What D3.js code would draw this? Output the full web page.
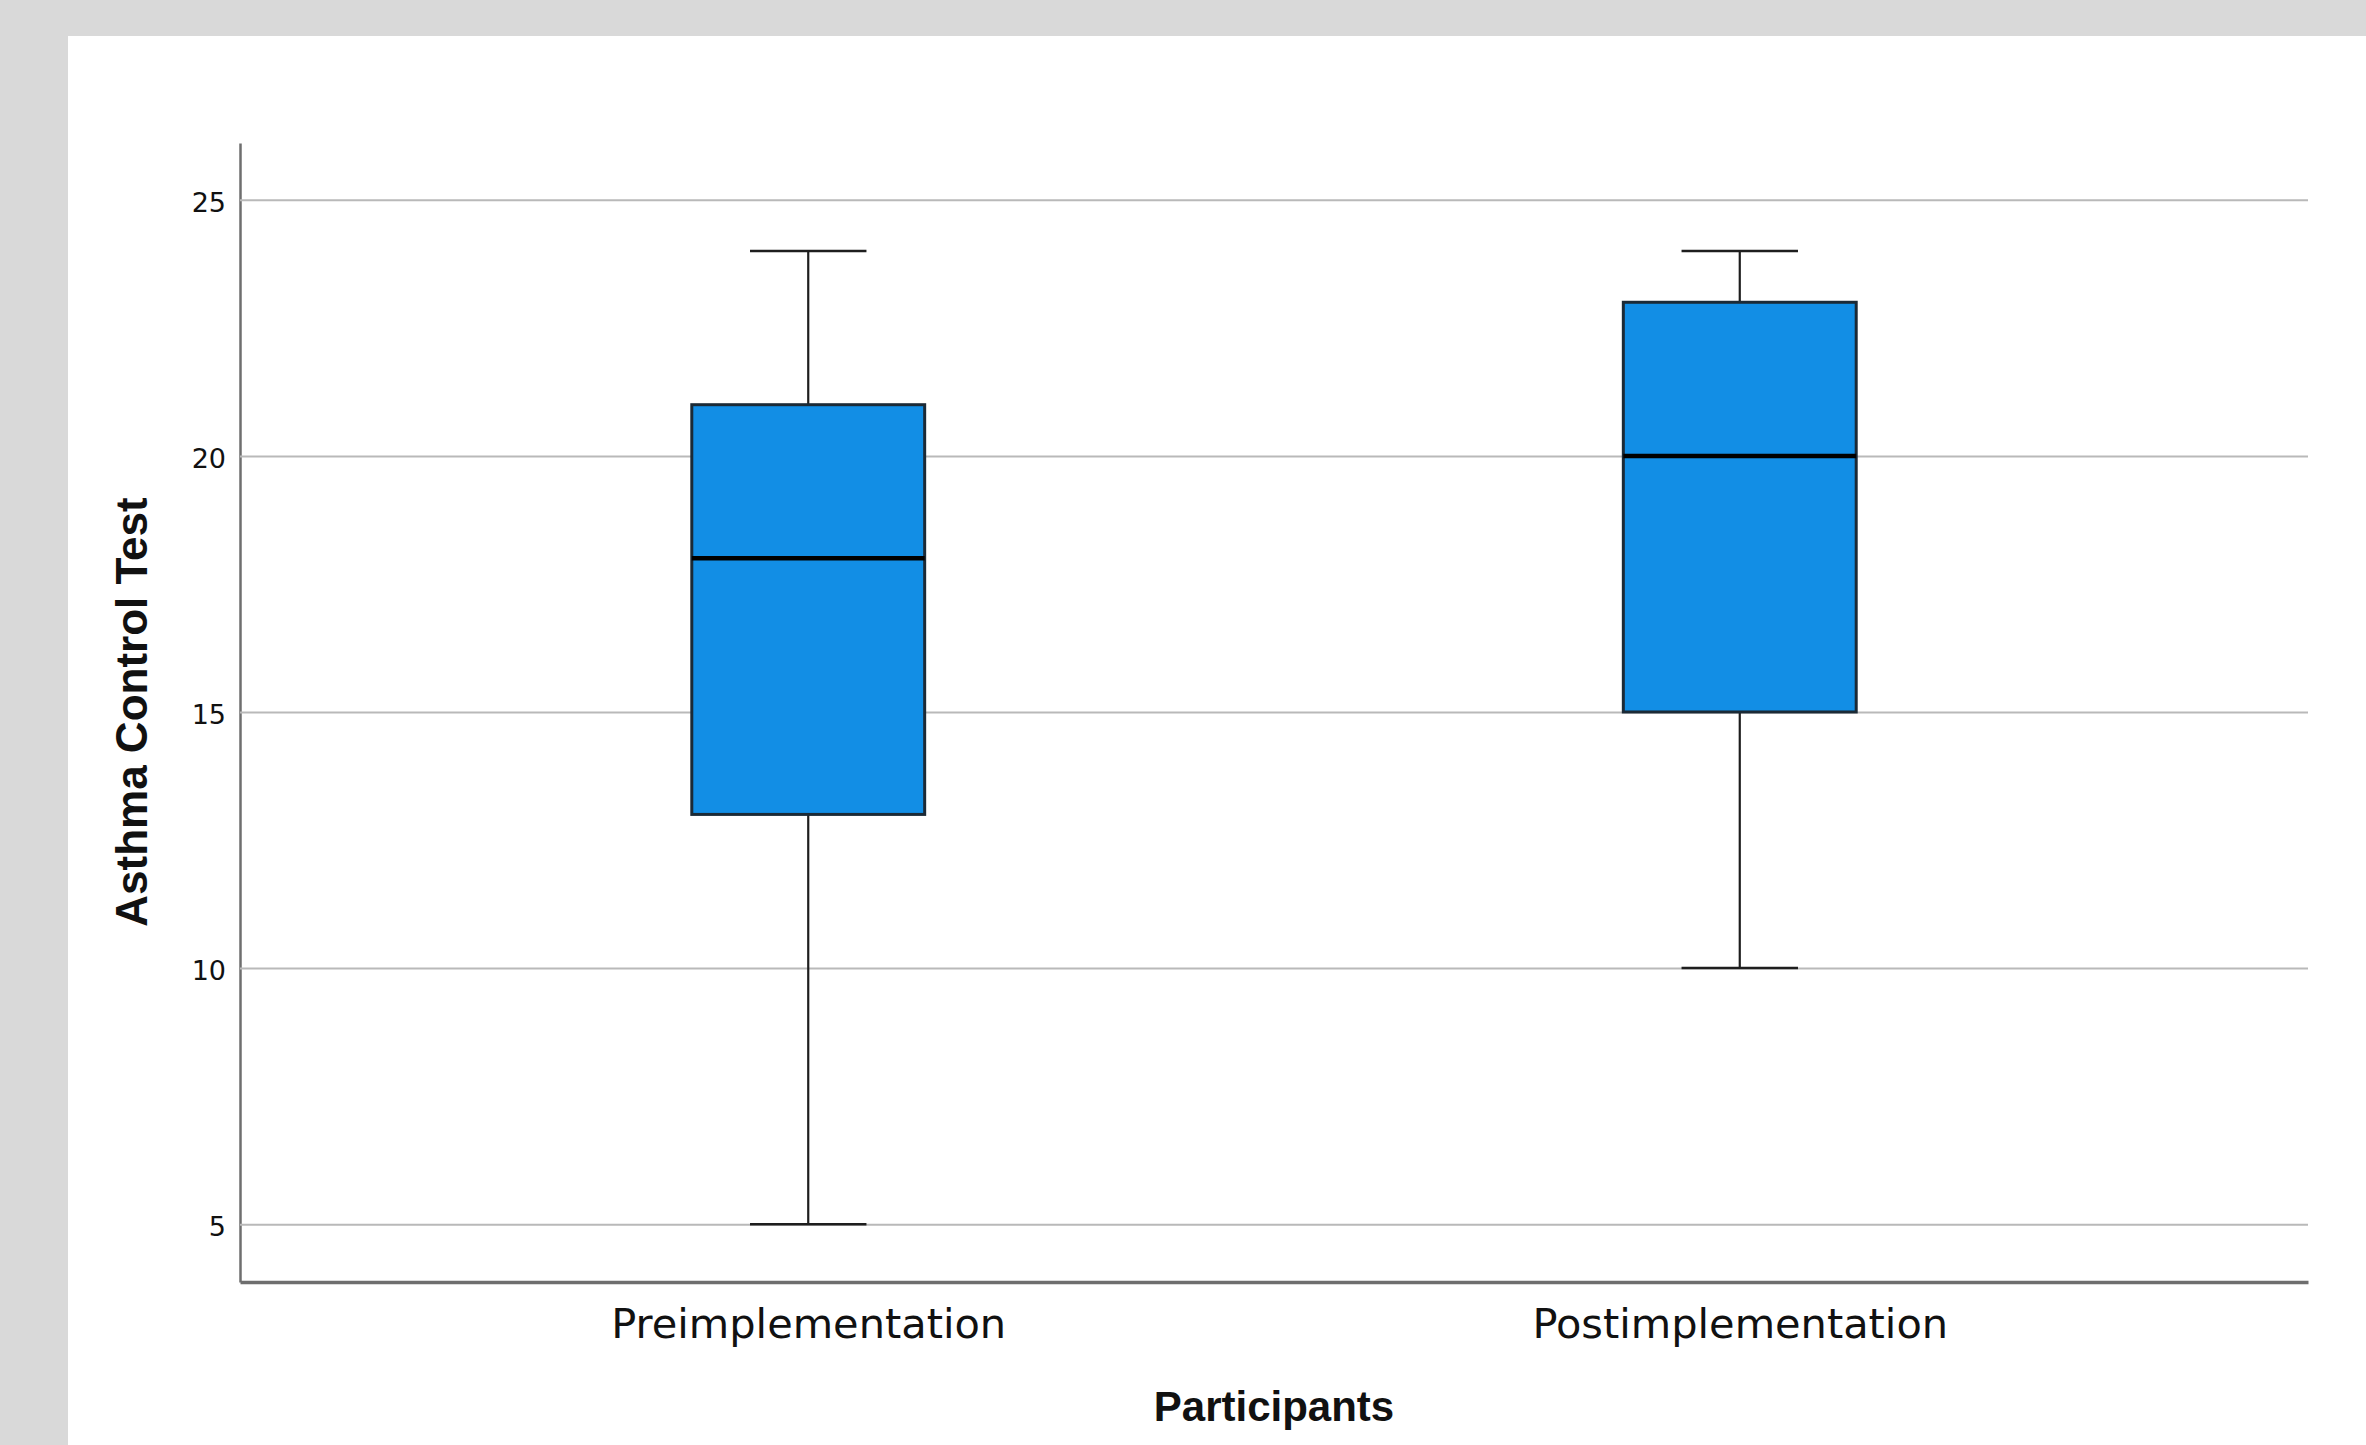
<!DOCTYPE html>
<html>
<head>
<meta charset="utf-8">
<script src="https://cdn.jsdelivr.net/npm/d3@7"></script>
<style>
  html, body { margin: 0; padding: 0; background: #d9d9d9; }
  svg { display: block; }
</style>
</head>
<body>
<svg id="chart" width="2366" height="1445"></svg>
<script>
// ---- data ----
const categories = ["Preimplementation", "Postimplementation"];
const whiskerMin = [5, 10];
const q1Values = [13, 15];
const medianValues = [18, 20];
const q3Values = [21, 23];
const whiskerMax = [24, 24];
const yTickValues = [5, 10, 15, 20, 25];
const yLabel = "Asthma Control Test";
const xLabel = "Participants";

const boxes = categories.map((c, i) => ({
  cat: c, min: whiskerMin[i], q1: q1Values[i], med: medianValues[i], q3: q3Values[i], max: whiskerMax[i]
}));

// ---- layout ----
const W = 2366, H = 1445;
const plot = { left: 240, right: 2308, top: 143, bottom: 1282 };

const svg = d3.select("#chart");

// gray background + white panel
svg.append("rect").attr("x", 0).attr("y", 0).attr("width", W).attr("height", H).attr("fill", "#d9d9d9");
svg.append("rect").attr("x", 68).attr("y", 36).attr("width", W - 68).attr("height", H - 36).attr("fill", "#ffffff");

const x = d3.scalePoint().domain(categories).range([plot.left, plot.right]).padding(0.61);
const y = d3.scaleLinear().domain([3.87, 26.11]).range([plot.bottom, plot.top]);

const step = x.step();
const boxW = step * 0.25;
const capW = boxW * 0.5;

// y axis with gridlines
const yAxis = d3.axisLeft(y)
  .tickValues(yTickValues)
  .tickSizeInner(-(plot.right - plot.left))
  .tickSizeOuter(0)
  .tickPadding(14)
  .tickFormat(d3.format("d"));

const gy = svg.append("g")
  .attr("transform", `translate(${plot.left},0)`)
  .call(yAxis);
gy.selectAll(".tick line").attr("stroke", "#b9b9b9").attr("stroke-width", 2);
gy.selectAll(".tick text")
  .attr("font-family", "DejaVu Sans")
  .attr("font-size", 27)
  .attr("fill", "#111")
  .attr("dy", "0.42em");
gy.select(".domain").attr("stroke", "#6e6e6e").attr("stroke-width", 2.5);

// x axis
const xAxis = d3.axisBottom(x).tickSize(0).tickPadding(27);
const gx = svg.append("g")
  .attr("transform", `translate(0,${plot.bottom})`)
  .call(xAxis);
gx.select(".domain").attr("stroke", "#6e6e6e").attr("stroke-width", 3.5);
gx.selectAll(".tick text")
  .attr("font-family", "DejaVu Sans")
  .attr("font-size", 41.5)
  .attr("fill", "#111");

// boxes
const g = svg.append("g");
const bx = g.selectAll("g.box").data(boxes).enter().append("g").attr("class", "box");

// whiskers (vertical)
bx.append("line")
  .attr("x1", d => x(d.cat)).attr("x2", d => x(d.cat))
  .attr("y1", d => y(d.max)).attr("y2", d => y(d.q3))
  .attr("stroke", "#1e1e1e").attr("stroke-width", 2.2);
bx.append("line")
  .attr("x1", d => x(d.cat)).attr("x2", d => x(d.cat))
  .attr("y1", d => y(d.q1)).attr("y2", d => y(d.min))
  .attr("stroke", "#1e1e1e").attr("stroke-width", 2.2);
// caps
bx.append("line")
  .attr("x1", d => x(d.cat) - capW / 2).attr("x2", d => x(d.cat) + capW / 2)
  .attr("y1", d => y(d.max)).attr("y2", d => y(d.max))
  .attr("stroke", "#1e1e1e").attr("stroke-width", 2.5);
bx.append("line")
  .attr("x1", d => x(d.cat) - capW / 2).attr("x2", d => x(d.cat) + capW / 2)
  .attr("y1", d => y(d.min)).attr("y2", d => y(d.min))
  .attr("stroke", "#1e1e1e").attr("stroke-width", 2.5);
// box
bx.append("rect")
  .attr("x", d => x(d.cat) - boxW / 2)
  .attr("width", boxW)
  .attr("y", d => y(d.q3))
  .attr("height", d => y(d.q1) - y(d.q3))
  .attr("fill", "#128ee5")
  .attr("stroke", "#1b2a36")
  .attr("stroke-width", 3);
// median
bx.append("line")
  .attr("x1", d => x(d.cat) - boxW / 2).attr("x2", d => x(d.cat) + boxW / 2)
  .attr("y1", d => y(d.med)).attr("y2", d => y(d.med))
  .attr("stroke", "#000").attr("stroke-width", 4.5);

// axis titles
svg.append("text")
  .attr("x", (plot.left + plot.right) / 2)
  .attr("y", 1421)
  .attr("text-anchor", "middle")
  .attr("font-family", "Liberation Sans")
  .attr("font-weight", "bold")
  .attr("font-size", 42)
  .attr("fill", "#111")
  .text(xLabel);

svg.append("text")
  .attr("transform", `translate(147,${712}) rotate(-90)`)
  .attr("text-anchor", "middle")
  .attr("font-family", "Liberation Sans")
  .attr("font-weight", "bold")
  .attr("font-size", 44)
  .attr("fill", "#111")
  .text(yLabel);
</script>
</body>
</html>
